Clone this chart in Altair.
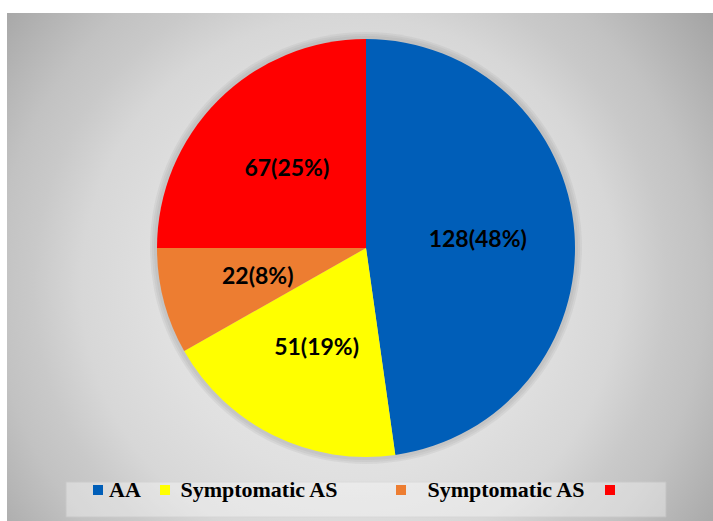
import altair as alt
import pandas as pd

# ---- data ----
categories = ["AA", "Symptomatic AS", "Symptomatic AS", ""]
counts = [128, 51, 22, 67]
percents = [48, 19, 8, 25]
colors = ["#005EB8", "#FFFF00", "#ED7D31", "#FF0000"]

keys = [f"s{i}" for i in range(len(counts))]
df = pd.DataFrame({
    "key": keys,
    "idx": list(range(len(counts))),
    "count": counts,
    "label": [f"{c}({p}%)" for c, p in zip(counts, percents)],
})

W, H = 706, 508
CX, CY, R = 359, 235, 209

# legend labels via expression (keys are unique, texts are not);
# en/thin spaces (kept from trimming by zero-width chars) reproduce the uneven spacing
EN = "\u2002"
TH = "\u2009"
ZW = "\u200b"
pad_before = ["", ZW + TH, ZW + EN + TH, ""]
pad_after = ["", EN * 3 + TH + ZW, "", ""]
expr = "''"
for k, c, a, b in reversed(list(zip(keys, categories, pad_before, pad_after))):
    expr = f"datum.label == '{k}' ? '{a}{c}{b}' : ({expr})"

one = pd.DataFrame({"k": [0]})

stops = [
    alt.GradientStop(color="#ececec", offset=0.0),
    alt.GradientStop(color="#e0e0e0", offset=0.40),
    alt.GradientStop(color="#d7d7d7", offset=0.56),
    alt.GradientStop(color="#c9c9c9", offset=0.66),
    alt.GradientStop(color="#c2c2c2", offset=0.74),
    alt.GradientStop(color="#a4a4a4", offset=0.94),
    alt.GradientStop(color="#a0a0a0", offset=1.0),
]
bg = alt.Chart(one).mark_rect(
    clip=True,
    color=alt.Gradient(gradient="radial", stops=stops,
                       x1=0.5, y1=0.5, r1=0, x2=0.5, y2=0.5, r2=0.5),
).encode(x=alt.value(-137), x2=alt.value(823), y=alt.value(-208), y2=alt.value(752))

box = alt.Chart(one).mark_rect(fill="white", opacity=0.35, stroke="#d4d4d4", strokeWidth=1).encode(
    x=alt.value(59), x2=alt.value(659), y=alt.value(469), y2=alt.value(504))

shadows = [
    alt.Chart(one).mark_arc(x=CX, y=CY, outerRadius=R + d, color="#8a8a8a", opacity=0.12).encode(
        theta=alt.value(0), theta2=alt.value(6.2832))
    for d in (7, 5, 3)
]

base = alt.Chart(df).encode(
    theta=alt.Theta("count:Q", stack=True),
    order=alt.Order("idx:Q"),
)

pie = base.mark_arc(x=CX, y=CY, outerRadius=R).encode(
    color=alt.Color(
        "key:N",
        scale=alt.Scale(domain=keys, range=colors),
        legend=alt.Legend(
            title=None, orient="none", legendX=80, legendY=466,
            direction="horizontal", columns=4, symbolType="square",
            symbolSize=100, symbolStrokeWidth=0, labelFont="Liberation Serif",
            labelFontWeight="bold", labelFontSize=22, labelColor="black",
            labelExpr=expr, labelLimit=0, labelOffset=0, columnPadding=13,
            padding=0,
        ),
    )
)

text = base.mark_text(
    x=CX, y=CY, radius=112, font="Lato", fontWeight="bold", fontSize=23, color="black"
).encode(text="label:N")

chart = alt.layer(bg, box, *shadows, pie, text).properties(
    width=W, height=H,
    padding={"left": 7, "top": 13, "right": 0, "bottom": 0},
    autosize="none",
    background="white",
).configure_view(stroke=None)

chart.save("out.html", embed_options={"renderer": "svg", "actions": False})
